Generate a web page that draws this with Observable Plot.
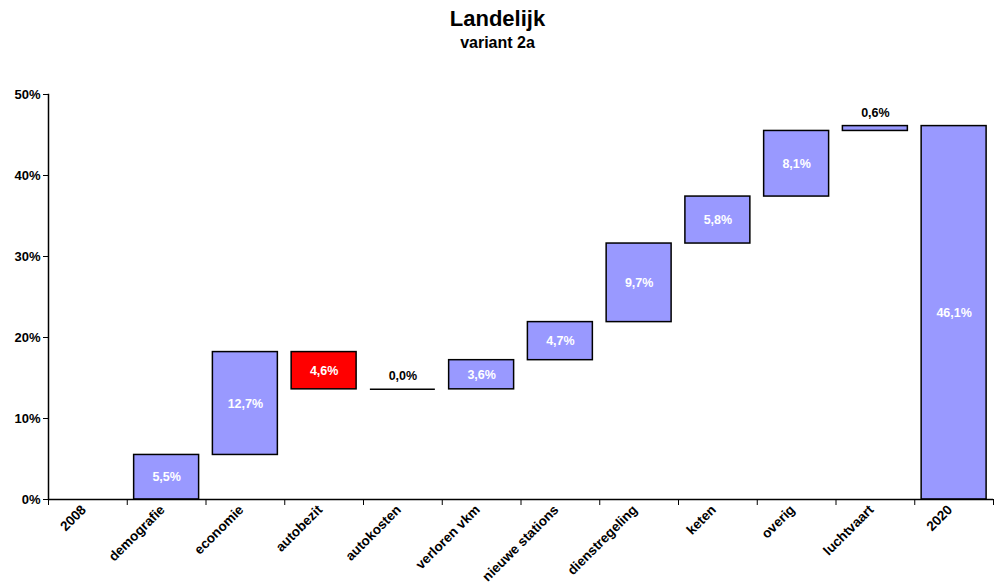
<!DOCTYPE html>
<html>
<head>
<meta charset="utf-8">
<script src="https://cdn.jsdelivr.net/npm/d3@7"></script>
<script src="https://cdn.jsdelivr.net/npm/@observablehq/plot@0.6"></script>
<style>
  body { margin: 0; background: #fff; font-family: "Liberation Sans", Arial, sans-serif; }
  #title { width: 995px; height: 62px; text-align: center; position: relative; }
  #title .t { position: absolute; left: 0; width: 995px; top: 8px; font-weight: bold; font-size: 22px; line-height: 22px; }
  #title .s { position: absolute; left: 0; width: 995px; top: 35px; font-weight: bold; font-size: 16px; line-height: 16px; }
</style>
</head>
<body>
<div id="title"><div class="t">Landelijk</div><div class="s">variant 2a</div></div>
<div id="chart"></div>
<script>
const categories = ["2008", "demografie", "economie", "autobezit", "autokosten", "verloren vkm", "nieuwe stations", "dienstregeling", "keten", "overig", "luchtvaart", "2020"];
const changes = [0.0, 5.5, 12.7, -4.6, 0.0, 3.6, 4.7, 9.7, 5.8, 8.1, 0.6, 46.1];
const yTicks = [0, 10, 20, 30, 40, 50];

// build waterfall rows
let run = 0;
const rows = categories.map((c, i) => {
  const v = changes[i];
  let y1, y2;
  if (i === 0 || i === categories.length - 1) { y1 = 0; y2 = v; run = v; }
  else { y1 = run; y2 = run + v; run = y2; }
  return { cat: c, v, y1, y2, neg: v < 0 };
});
const fmt = v => Math.abs(v).toFixed(1).replace(".", ",") + "%";
const inside = rows.filter((d, i) => i === 0 || Math.abs(d.v) >= 1);
const above = rows.filter((d, i) => i !== 0 && Math.abs(d.v) < 1);
const flat = rows.filter((d, i) => i !== 0 && d.v === 0);

const W = 995, H = 525;
const mL = 48, mR = 2, mT = 32, mB = 88;
const step = (W - mL - mR) / categories.length;
const font = "Liberation Sans, Arial, sans-serif";

const chart = Plot.plot({
  width: W, height: H,
  marginLeft: mL, marginRight: mR, marginTop: mT, marginBottom: mB,
  style: { fontFamily: font, fontSize: "12px", fontWeight: "bold", color: "black", background: "white" },
  x: { domain: categories, paddingInner: 0.175, paddingOuter: 0.0875, round: false, label: null },
  y: { domain: [0, 50], label: null },
  marks: [
    Plot.barY(rows, { x: "cat", y1: "y1", y2: "y2", fill: d => d.neg ? "#FF0000" : "#9999FF", stroke: "black", strokeWidth: 1.5 }),
    Plot.tickY(flat, { x: "cat", y: "y2", stroke: "black", strokeWidth: 1.5 }),
    Plot.text(inside, { x: "cat", y: d => (d.y1 + d.y2) / 2, text: d => fmt(d.v), fill: "white", fontWeight: "bold", fontSize: 12.5 }),
    Plot.text(above, { x: "cat", y: d => Math.max(d.y1, d.y2), text: d => fmt(d.v), fill: "black", fontWeight: "bold", fontSize: 12.5, lineAnchor: "bottom", dy: -9 }),
    Plot.ruleY([0], { stroke: "black", strokeWidth: 1.5 }),
    Plot.frame({ anchor: "left", stroke: "black", strokeWidth: 1.5 }),
    Plot.axisY({ ticks: yTicks, tickFormat: d => d + "%", tickSize: 5, tickPadding: 3, fontWeight: "bold", fontSize: 13, label: null }),
    Plot.axisX({ tickSize: 0, tickRotate: -45, tickPadding: 8, dx: -4, fontWeight: "bold", fontSize: 13.5, label: null }),
    Plot.axisX({ tickSize: 6, dx: -step / 2, tickFormat: () => "", label: null }),
    Plot.axisX({ ticks: [categories[categories.length - 1]], tickSize: 6, dx: step / 2, tickFormat: () => "", label: null })
  ]
});
document.getElementById("chart").appendChild(chart);
</script>
</body>
</html>
